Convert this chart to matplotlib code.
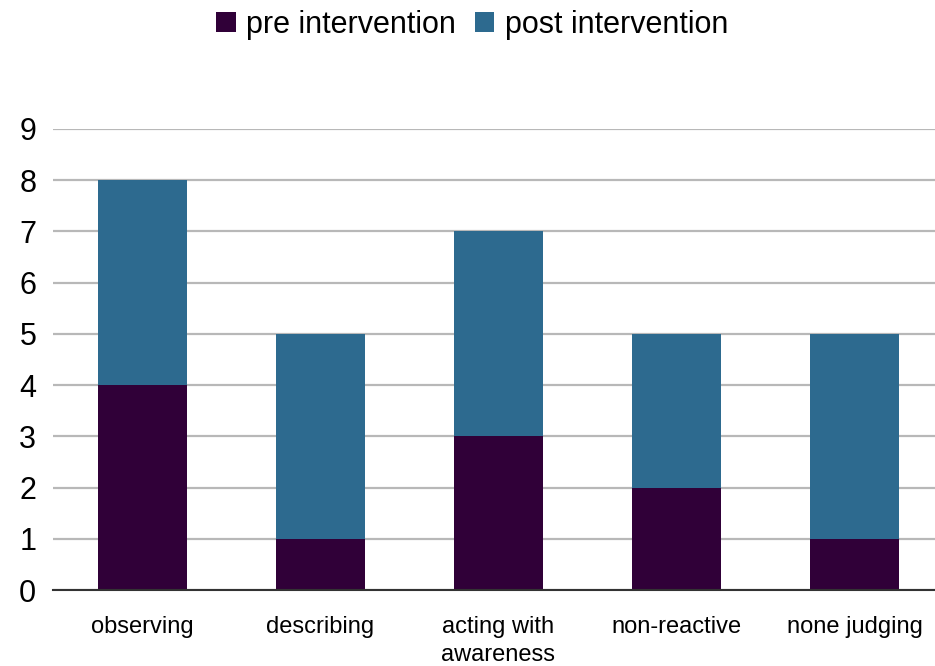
import matplotlib
matplotlib.use('Agg')
from matplotlib import pyplot as plt
import numpy as np

categories = ['observing', 'describing', 'acting with\nawareness', 'non-reactive', 'none judging']
pre_values = [4, 1, 3, 2, 1]
post_values = [4, 4, 4, 3, 4]
y_ticks = [0, 1, 2, 3, 4, 5, 6, 7, 8, 9]

plt.rcParams['font.family'] = ['Liberation Sans', 'DejaVu Sans']

fig = plt.figure(figsize=(9.35, 6.66), dpi=100)
ax = fig.add_axes([53 / 935, 1 - 590 / 666, 1 - 53 / 935, (590 - 129) / 666])

x = np.arange(len(categories))
ax.bar(x, pre_values, width=0.5, color='#300038', label='pre intervention', zorder=3)
ax.bar(x, post_values, width=0.5, bottom=pre_values, color='#2D6A8F', label='post intervention', zorder=3)

ax.set_xlim(-0.5, 4.45)
ax.set_ylim(0, 9)
ax.set_yticks(y_ticks)
ax.set_xticks(x)
ax.set_xticklabels(categories, fontsize=17, linespacing=1.33)
ax.tick_params(axis='y', labelsize=22, length=0, pad=12)
ax.tick_params(axis='x', length=0, pad=19)

ax.grid(axis='y', color='#B8B8B8', linewidth=1.6, zorder=0)
for side in ['left', 'right', 'top']:
    ax.spines[side].set_visible(False)
ax.spines['bottom'].set_color('#333333')
ax.spines['bottom'].set_linewidth(1.5)
ax.spines['bottom'].set_zorder(4)

fig.legend(loc='upper center', bbox_to_anchor=(0.505, 0.992), ncol=2, frameon=False,
           fontsize=22, handlelength=0.65, handleheight=0.65, handletextpad=0.35,
           columnspacing=0.6, borderaxespad=0.0, borderpad=0.15)

plt.savefig('out.png', dpi=100)
